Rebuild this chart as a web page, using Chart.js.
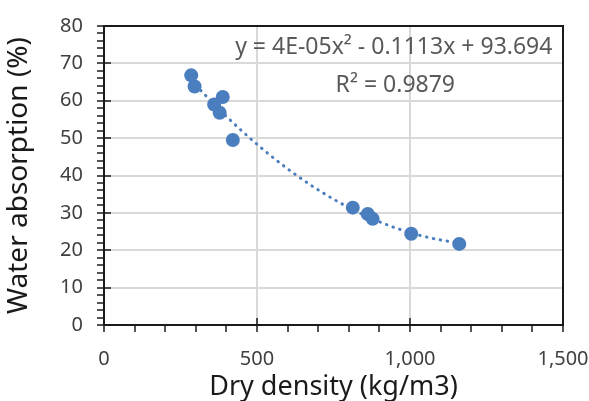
<!DOCTYPE html>
<html>
<head>
<meta charset="utf-8">
<script src="https://cdn.jsdelivr.net/npm/chart.js@4.4.1/dist/chart.umd.min.js"></script>
<style>
  html, body { margin: 0; padding: 0; background: #fff; }
</style>
</head>
<body>
<canvas id="absorptionChart" width="589" height="401"></canvas>
<script>
/* Data */
const dry_density = [285, 296, 388, 360, 378, 421, 813, 862, 878, 1004, 1161];
const water_absorption = [66.8, 63.8, 61.0, 59.0, 56.8, 49.5, 31.4, 29.7, 28.4, 24.4, 21.7];

// major tick values (labels + grid lines)
const x_major_ticks = [0, 500, 1000, 1500];
const y_major_ticks = [0, 10, 20, 30, 40, 50, 60, 70, 80];

// trendline labels as printed on the chart
const equation_label = 'y = 4E-05x\u00B2 - 0.1113x + 93.694';
const r2_label = 'R\u00B2 = 0.9879';

const fontFamily = '"Noto Sans", "Open Sans", sans-serif';
const markerColor = '#4a7ebf';

// points
var scatter_points = dry_density.map((x, i) => ({ x: x, y: water_absorption[i] }));

// quadratic least squares fit of the points (the Excel trendline)
function quadFit(xs, ys) {
  let s = [0, 0, 0, 0, 0], t = [0, 0, 0];
  xs.forEach((x, i) => {
    for (let k = 0; k < 5; k++) s[k] += Math.pow(x, k);
    for (let k = 0; k < 3; k++) t[k] += Math.pow(x, k) * ys[i];
  });
  // normal equations, solved by Gaussian elimination
  let m = [
    [s[0], s[1], s[2], t[0]],
    [s[1], s[2], s[3], t[1]],
    [s[2], s[3], s[4], t[2]]
  ];
  for (let c = 0; c < 3; c++) {
    for (let r = c + 1; r < 3; r++) {
      const f = m[r][c] / m[c][c];
      for (let k = c; k < 4; k++) m[r][k] -= f * m[c][k];
    }
  }
  let coef = [0, 0, 0];
  for (let r = 2; r >= 0; r--) {
    let v = m[r][3];
    for (let k = r + 1; k < 3; k++) v -= m[r][k] * coef[k];
    coef[r] = v / m[r][r];
  }
  return coef;
}

const coef = quadFit(dry_density, water_absorption);
const xMin = Math.min(...dry_density), xMax = Math.max(...dry_density);
var trend_points = [];
for (let x = xMin; x <= xMax + 0.001; x += (xMax - xMin) / 60) {
  trend_points.push({ x: x, y: coef[0] + coef[1] * x + coef[2] * x * x });
}

// frame, inward half of major ticks and trendline label
const frameAndLabels = {
  id: 'frameAndLabels',
  afterDraw(chart) {
    const ctx = chart.ctx;
    const a = chart.chartArea;
    const sx = chart.scales.x, sy = chart.scales.y;
    ctx.save();
    ctx.strokeStyle = '#1a1a1a';
    ctx.lineWidth = 2;
    ctx.beginPath();
    ctx.moveTo(a.left, a.top);
    ctx.lineTo(a.right, a.top);
    ctx.lineTo(a.right, a.bottom);
    ctx.stroke();
    ctx.lineWidth = 1.5;
    ctx.beginPath();
    y_major_ticks.forEach(v => {
      const py = Math.round(sy.getPixelForValue(v));
      ctx.moveTo(a.left, py);
      ctx.lineTo(a.left + 7, py);
    });
    x_major_ticks.forEach(v => {
      const px = Math.round(sx.getPixelForValue(v));
      ctx.moveTo(px, a.bottom);
      ctx.lineTo(px, a.bottom - 7);
    });
    ctx.stroke();

    ctx.fillStyle = '#595959';
    ctx.font = '23px ' + fontFamily;
    ctx.textAlign = 'center';
    ctx.textBaseline = 'middle';
    ctx.fillText(equation_label, sx.getPixelForValue(947), sy.getPixelForValue(74.2));
    ctx.fillText(r2_label, sx.getPixelForValue(952), sy.getPixelForValue(64.1));
    ctx.restore();
  }
};

const ctxAbsorption = document.getElementById('absorptionChart').getContext('2d');

const absorptionChart = new Chart(ctxAbsorption, {
  type: 'scatter',
  data: {
    datasets: [{
      label: 'Water absorption',
      data: scatter_points,
      backgroundColor: markerColor,
      borderColor: markerColor,
      pointRadius: 7,
      pointBorderWidth: 0
    },
    {
      label: 'Poly. trend',
      type: 'line',
      data: trend_points,
      borderColor: markerColor,
      borderWidth: 3,
      borderDash: [0.5, 6.5],
      borderCapStyle: 'round',
      pointRadius: 0,
      tension: 0,
      fill: false
    }]
  },
  options: {
    responsive: false,
    animation: false,
    events: [],
    layout: { padding: { left: 0, top: 24, right: 26, bottom: 0 } },
    plugins: {
      legend: { display: false },
      tooltip: { enabled: false }
    },
    scales: {
      x: {
        type: 'linear',
        position: 'bottom',
        min: 0,
        max: 1500,
        afterFit: s => { s.height = 76; s.paddingLeft = 0; s.paddingRight = 0; },
        ticks: {
          stepSize: 100,
          autoSkip: false,
          maxRotation: 0,
          padding: 15,
          color: '#404040',
          font: { family: fontFamily, size: 20 },
          callback: v => x_major_ticks.includes(v) ? v.toLocaleString('en-US') : ''
        },
        grid: {
          color: c => (c.tick && x_major_ticks.includes(c.tick.value) && c.tick.value > 0) ? '#d9d9d9' : 'rgba(0,0,0,0)',
          lineWidth: 2,
          tickColor: '#1a1a1a',
          tickLength: 7,
          tickWidth: 1.5
        },
        border: { color: '#1a1a1a', width: 2 },
        title: {
          display: true,
          text: 'Dry density (kg/m3)',
          color: '#1a1a1a',
          font: { family: fontFamily, size: 27 },
          padding: { top: 0, bottom: -3 }
        }
      },
      y: {
        type: 'linear',
        position: 'left',
        min: 0,
        max: 80,
        afterFit: s => { s.width = 104; },
        ticks: {
          stepSize: 2,
          autoSkip: false,
          padding: 14,
          color: '#404040',
          font: { family: fontFamily, size: 20 },
          callback: v => y_major_ticks.includes(v) ? String(v) : ''
        },
        grid: {
          color: c => (c.tick && y_major_ticks.includes(c.tick.value) && c.tick.value > 0) ? '#d9d9d9' : 'rgba(0,0,0,0)',
          lineWidth: 2,
          tickColor: '#1a1a1a',
          tickLength: 7,
          tickWidth: 1.5
        },
        border: { color: '#1a1a1a', width: 2 },
        title: {
          display: true,
          text: 'Water absorption (%)',
          color: '#1a1a1a',
          font: { family: fontFamily, size: 28 },
          padding: { top: 2, bottom: 0 }
        }
      }
    }
  },
  plugins: [frameAndLabels]
});
</script>
</body>
</html>
